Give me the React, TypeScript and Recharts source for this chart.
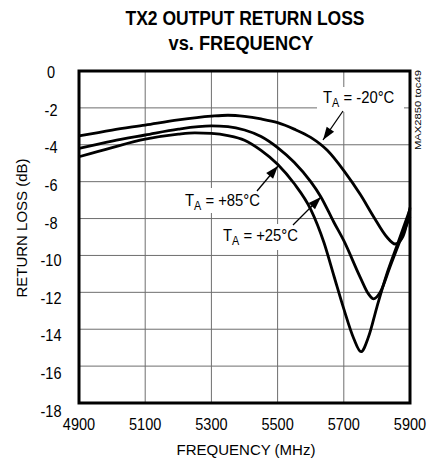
import React from "react";
import {
  CartesianGrid,
  Line,
  LineChart,
  ReferenceArea,
  XAxis,
  YAxis,
} from "recharts";

// TX2 output return loss
const freqM20 = [4900, 5000, 5100, 5200, 5300, 5350, 5400, 5450, 5500, 5550, 5600, 5650, 5700, 5750, 5790, 5830, 5855, 5875, 5890, 5900];
const rlM20 = [-3.52, -3.2, -2.93, -2.65, -2.45, -2.4, -2.46, -2.6, -2.8, -3.15, -3.6, -4.3, -5.4, -6.7, -7.9, -9.0, -9.38, -9.1, -8.3, -7.4];

const freqP25 = [4900, 5000, 5100, 5200, 5300, 5350, 5400, 5450, 5500, 5550, 5600, 5630, 5670, 5700, 5750, 5775, 5790, 5810, 5840, 5870, 5900];
const rlP25 = [-4.2, -3.8, -3.47, -3.15, -2.98, -3.02, -3.2, -3.55, -4.15, -4.95, -6.0, -6.8, -8.2, -9.2, -11.2, -12.1, -12.36, -12.0, -10.6, -9.2, -7.9];

const freqP85 = [4900, 5000, 5100, 5200, 5250, 5300, 5350, 5400, 5450, 5500, 5550, 5600, 5640, 5670, 5700, 5730, 5752, 5775, 5800, 5830, 5860, 5900];
const rlP85 = [-4.65, -4.15, -3.7, -3.42, -3.35, -3.38, -3.5, -3.75, -4.3, -5.05, -6.1, -7.5, -9.3, -11.1, -12.9, -14.5, -15.22, -14.4, -12.8, -11.0, -9.5, -7.5];

const xTicks = [4900, 5100, 5300, 5500, 5700, 5900];
const yTicks = [0, -2, -4, -6, -8, -10, -12, -14, -16, -18];

const toRows = (f: number[], v: number[]) => f.map((x, i) => ({ f: x, rl: v[i] }));

const FONT = "'Liberation Sans', Arial, sans-serif";

// labels in the original are a bit taller and narrower than plain Arial
function XTick({ x, y, payload }: any) {
  return (
    <text
      transform={`translate(${x},${y + 27}) scale(0.88,1)`}
      textAnchor="middle"
      fontFamily={FONT}
      fontSize={16.5}
      fill="#000"
    >
      {payload.value}
    </text>
  );
}

function YTick({ x, y, payload }: any) {
  const off = 1.5 + 0.35 * -payload.value;
  return (
    <text
      transform={`translate(${x - 28},${y + off}) scale(0.88,1)`}
      dy="0.35em"
      textAnchor="middle"
      fontFamily={FONT}
      fontSize={16.5}
      fill="#000"
    >
      {payload.value}
    </text>
  );
}

function arrowHead(tx: number, ty: number, hx: number, hy: number) {
  const dx = hx - tx;
  const dy = hy - ty;
  const len = Math.hypot(dx, dy);
  const ux = dx / len;
  const uy = dy / len;
  const L = 13;
  const W = 4.5;
  const bx = hx - ux * L;
  const by = hy - uy * L;
  return `${hx},${hy} ${bx - uy * W},${by + ux * W} ${bx + uy * W},${by - ux * W}`;
}

function TempLabel({ x, y, temp }: { x: number; y: number; temp: string }) {
  return (
    <text transform={`translate(${x},${y}) scale(0.9,1)`} fontFamily={FONT} fontSize={16.5} fill="#000">
      T
      <tspan fontSize={12} dy={4}>A</tspan>
      <tspan dy={-4}>{` = ${temp}°C`}</tspan>
    </text>
  );
}

function Arrow({ tx, ty, hx, hy }: { tx: number; ty: number; hx: number; hy: number }) {
  return (
    <g>
      <line x1={tx} y1={ty} x2={hx} y2={hy} stroke="#000" strokeWidth={1.3} />
      <polygon points={arrowHead(tx, ty, hx, hy)} fill="#000" />
    </g>
  );
}

export default function App() {
  return (
    <div style={{ position: "absolute", left: 0, top: 0, width: 427, height: 464, background: "#fff" }}>
      <LineChart width={427} height={464} margin={{ top: 71, right: 17, bottom: 0, left: 0 }}>
        <CartesianGrid stroke="#6e6e6e" strokeWidth={1} />
        <XAxis
          type="number"
          dataKey="f"
          domain={[4900, 5900]}
          ticks={xTicks}
          height={61}
          axisLine={false}
          tickLine={false}
          tickSize={0}
          tickMargin={0}
          tick={<XTick />}
          allowDuplicatedCategory={false}
        />
        <YAxis
          type="number"
          domain={[-18, 0]}
          ticks={yTicks}
          width={79}
          axisLine={false}
          tickLine={false}
          tickSize={0}
          tickMargin={0}
          tick={<YTick />}
        />
        <ReferenceArea
          x1={4900}
          x2={5900}
          y1={-18}
          y2={0}
          fill="none"
          fillOpacity={0}
          stroke="#000"
          strokeWidth={3}
          ifOverflow="visible"
        />
        <Line data={toRows(freqM20, rlM20)} dataKey="rl" type="monotone" stroke="#000" strokeWidth={2.8} dot={false} isAnimationActive={false} />
        <Line data={toRows(freqP25, rlP25)} dataKey="rl" type="monotone" stroke="#000" strokeWidth={2.8} dot={false} isAnimationActive={false} />
        <Line data={toRows(freqP85, rlP85)} dataKey="rl" type="monotone" stroke="#000" strokeWidth={2.8} dot={false} isAnimationActive={false} />
      </LineChart>

      <svg width={427} height={464} style={{ position: "absolute", left: 0, top: 0, pointerEvents: "none" }}>
        <text
          x={245}
          y={25}
          textAnchor="middle"
          fontFamily={FONT}
          fontWeight="bold"
          fontSize={20}
          textLength={239}
          lengthAdjust="spacingAndGlyphs"
        >
          TX2 OUTPUT RETURN LOSS
        </text>
        <text
          x={241}
          y={50}
          textAnchor="middle"
          fontFamily={FONT}
          fontWeight="bold"
          fontSize={20}
          textLength={145}
          lengthAdjust="spacingAndGlyphs"
        >
          vs. FREQUENCY
        </text>

        <text x={246} y={455} textAnchor="middle" fontFamily={FONT} fontSize={15}>
          FREQUENCY (MHz)
        </text>
        <text transform="translate(27,228) rotate(-90)" textAnchor="middle" fontFamily={FONT} fontSize={15}>
          RETURN LOSS (dB)
        </text>

        <text
          transform="translate(421,110) rotate(-90)"
          textAnchor="middle"
          fontFamily={FONT}
          fontSize={9.5}
          textLength={80}
          lengthAdjust="spacingAndGlyphs"
        >
          MAX2850 toc49
        </text>

        <rect x={317} y={87} width={87} height={25} fill="#fff" />
        <TempLabel x={323} y={103} temp="-20" />
        <Arrow tx={343} ty={111} hx={323} hy={140} />

        <rect x={181} y={188} width={86} height={25} fill="#fff" />
        <TempLabel x={185} y={206} temp="+85" />
        <Arrow tx={257} ty={191} hx={278} hy={166} />

        <rect x={219} y={224} width={85} height={26} fill="#fff" />
        <TempLabel x={223} y={241} temp="+25" />
        <Arrow tx={293} ty={225} hx={321} hy={197} />
      </svg>
    </div>
  );
}
